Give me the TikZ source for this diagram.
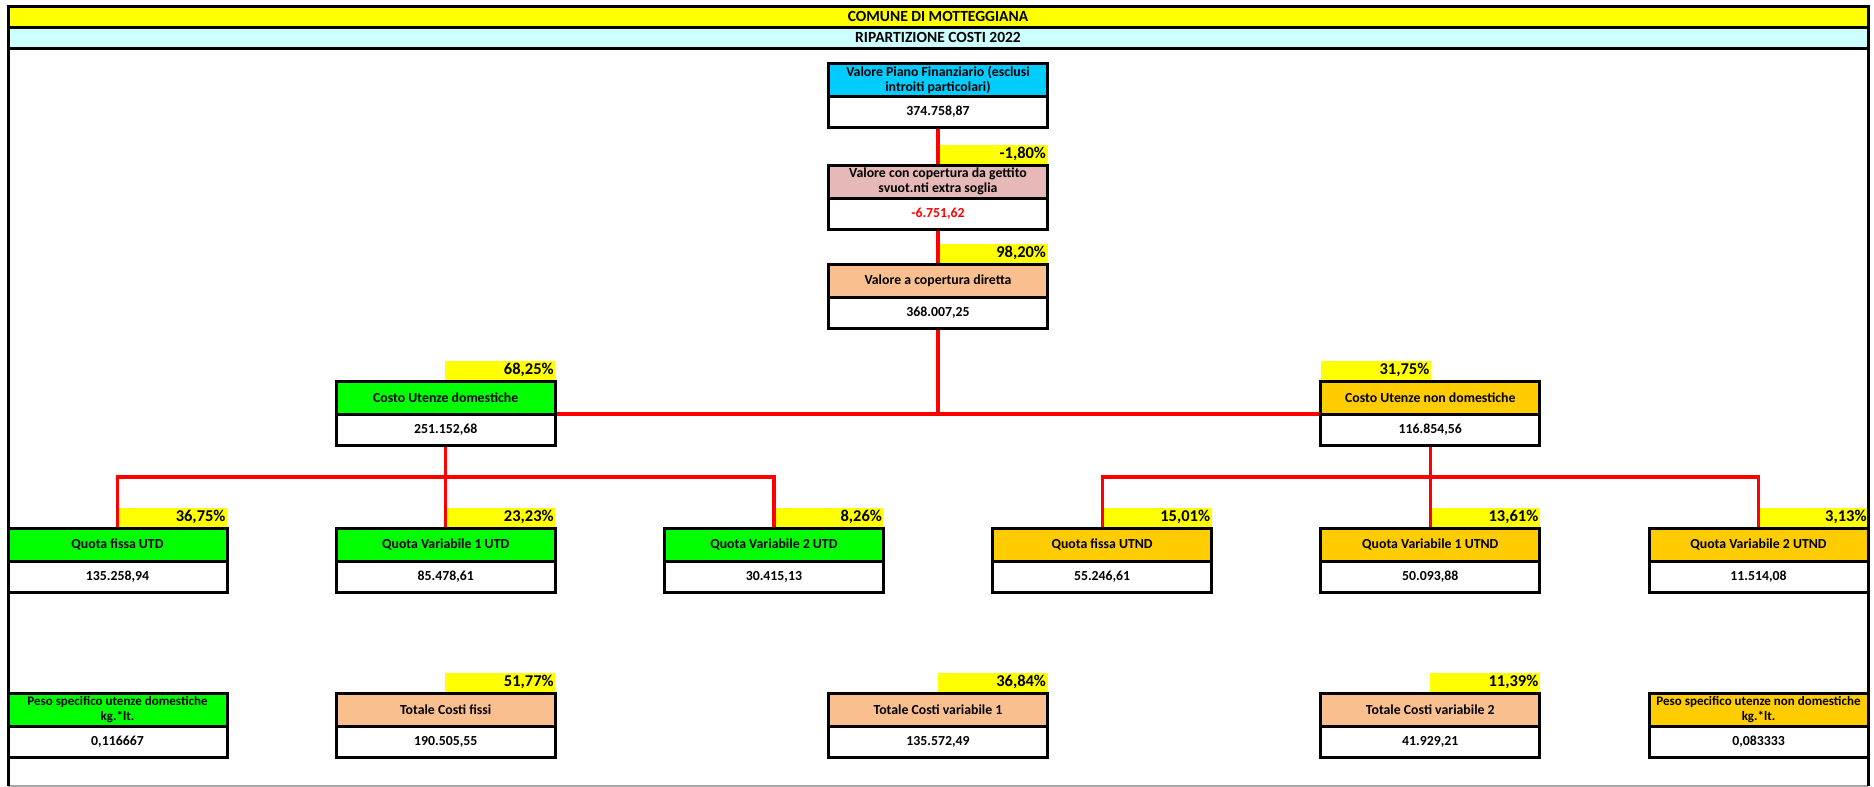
\documentclass[tikz,border=0pt]{standalone}
\usepackage{fontspec}
\setmainfont{Carlito}
\definecolor{xyellow}{HTML}{FFFF00}
\definecolor{xcyan}{HTML}{CCFFFF}
\definecolor{xsky}{HTML}{00CCFF}
\definecolor{xpink}{HTML}{E6B8B7}
\definecolor{xpeach}{HTML}{FABF8F}
\definecolor{xgreen}{HTML}{00FF00}
\definecolor{xgold}{HTML}{FFCC00}
\definecolor{xred}{HTML}{FF0000}
\pgfdeclarelayer{bbg}
\pgfdeclarelayer{bg}
\pgfsetlayers{bbg,bg,main}
\tikzset{
  hdr/.style={draw=black, line width=3pt, minimum width=219pt, minimum height=33pt,
    inner sep=0pt, outer sep=0pt, anchor=north west, align=center,
    font=\bfseries\fontsize{13.8}{15}\selectfont},
  val/.style={draw=black, line width=3pt, fill=white, minimum width=219pt,
    minimum height=31pt, inner sep=0pt, outer sep=0pt, anchor=north,
    font=\bfseries\fontsize{13.8}{15}\selectfont},
  pct/.style={fill=xyellow, minimum width=110pt, minimum height=19pt, inner sep=0pt,
    outer sep=0pt, anchor=south east, text width=107pt, align=right,
    font=\bfseries\fontsize{16.5}{17}\selectfont},
  redline/.style={draw=xred, line width=3.2pt},
  titlebar/.style={draw=black, line width=3pt, minimum width=1860pt, minimum height=21pt,
    inner sep=0pt, outer sep=0pt, anchor=north west, font=\bfseries\fontsize{15.5}{16}\selectfont},
}
\newcommand\cbox[7]{%
  \node[hdr, fill=#4] (#1h) at (#2,#3) {#5};
  \node[val, #7] (#1) at (#1h.south) {#6};
}
\newcommand\pbox[2]{%
  \begin{pgfonlayer}{bbg}
    \node[pct] (#1p) at ([yshift=1.5pt]#1h.north east) {#2};
  \end{pgfonlayer}
}
\newcommand\smallhdr{\fontsize{13}{15}\selectfont}
\begin{document}
\begin{tikzpicture}[x=1pt,y=-1pt]
\useasboundingbox (0,0) rectangle (1874,787);
% frame
\draw[gray!70, line width=1.2pt] (8,786) -- (1868,786);
\node[titlebar, fill=xyellow] (t1) at (8,6) {COMUNE DI MOTTEGGIANA};
\node[titlebar, fill=xcyan] (t2) at (t1.south west) {RIPARTIZIONE COSTI 2022};
\draw[black, line width=3pt] (t1.north west) -- (8,786);
\draw[black, line width=3pt] (t1.north east) -- (1868,786);
% level 0-1
\cbox{top}{828.5}{63}{xsky}{Valore Piano Finanziario (esclusi\\introiti particolari)}{374.758,87}{}
\cbox{svu}{828.5}{165}{xpink}{Valore con copertura da gettito\\svuot.nti extra soglia}{-6.751,62}{text=xred}
\cbox{dir}{828.5}{264}{xpeach}{Valore a copertura diretta}{368.007,25}{}
\pbox{svu}{-1,80\%}
\pbox{dir}{98,20\%}
% level 2
\cbox{ud}{336.2}{381}{xgreen}{Costo Utenze domestiche}{251.152,68}{}
\cbox{und}{1320.8}{381}{xgold}{Costo Utenze non domestiche}{116.854,56}{}
\pbox{ud}{68,25\%}
\begin{pgfonlayer}{bbg}
  \node[pct, anchor=south west, align=right] (undp) at ([yshift=1.5pt]undh.north west) {31,75\%};
\end{pgfonlayer}
% level 3
\cbox{qa}{8}{528}{xgreen}{Quota fissa UTD}{135.258,94}{}
\cbox{qb}{336.2}{528}{xgreen}{Quota Variabile 1 UTD}{85.478,61}{}
\cbox{qc}{664.4}{528}{xgreen}{Quota Variabile 2 UTD}{30.415,13}{}
\cbox{qd}{992.6}{528}{xgold}{Quota fissa UTND}{55.246,61}{}
\cbox{qe}{1320.8}{528}{xgold}{Quota Variabile 1 UTND}{50.093,88}{}
\cbox{qf}{1649}{528}{xgold}{Quota Variabile 2 UTND}{11.514,08}{}
\pbox{qa}{36,75\%}
\pbox{qb}{23,23\%}
\pbox{qc}{8,26\%}
\pbox{qd}{15,01\%}
\pbox{qe}{13,61\%}
\pbox{qf}{3,13\%}
% level 4
\cbox{pa}{8}{693}{xgreen}{\smallhdr Peso specifico utenze domestiche\\\smallhdr kg.*lt.}{0,116667}{}
\cbox{pb}{336.2}{693}{xpeach}{Totale Costi fissi}{190.505,55}{}
\cbox{pc}{828.5}{693}{xpeach}{Totale Costi variabile 1}{135.572,49}{}
\cbox{pd}{1320.8}{693}{xpeach}{Totale Costi variabile 2}{41.929,21}{}
\cbox{pe}{1649}{693}{xgold}{\smallhdr Peso specifico utenze non domestiche\\\smallhdr kg.*lt.}{0,083333}{}
\pbox{pb}{51,77\%}
\pbox{pc}{36,84\%}
\pbox{pd}{11,39\%}
% connectors
\begin{pgfonlayer}{bg}
  \coordinate (busL) at (0,477);
  \draw[redline] (top.south) -- (svuh.north);
  \draw[redline] (svu.south) -- (dirh.north);
  \draw[redline] (dir.south) -- (dir.south |- udh.south east);
  \draw[redline] (udh.south east) -- (undh.south west);
  \draw[redline] (ud.south) -- (qbh.north);
  \draw[redline] (qah.north) -- (qah.north |- busL) -- (qch.north |- busL) -- (qch.north);
  \draw[redline] (und.south) -- (qeh.north);
  \draw[redline] (qdh.north) -- (qdh.north |- busL) -- (qfh.north |- busL) -- (qfh.north);
\end{pgfonlayer}
\end{tikzpicture}
\end{document}
